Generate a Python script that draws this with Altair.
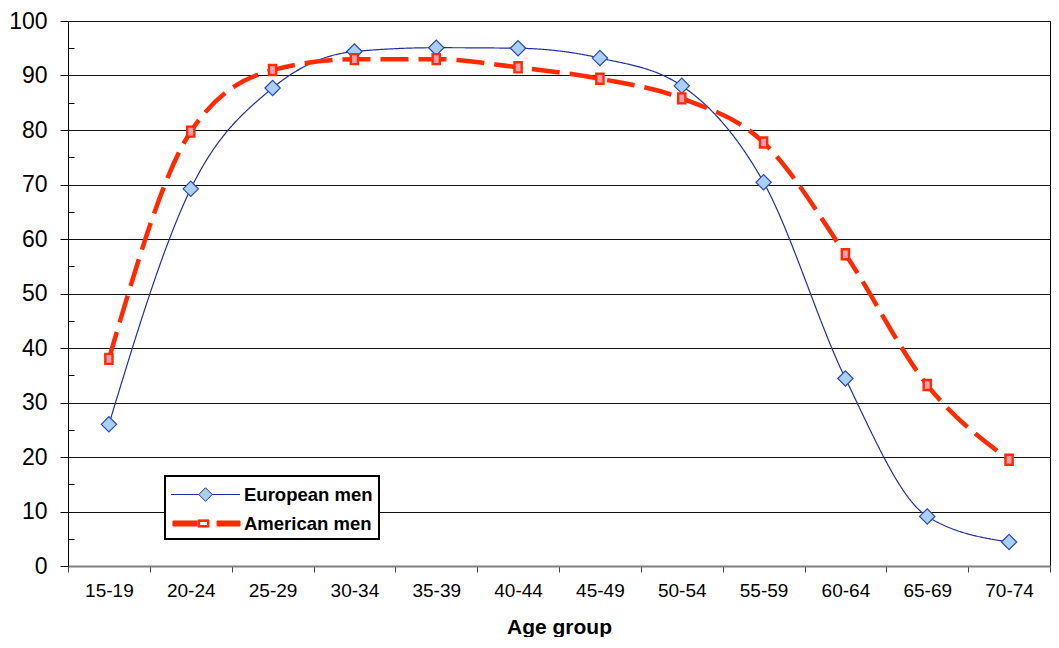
import altair as alt
import pandas as pd

groups = ["15-19", "20-24", "25-29", "30-34", "35-39", "40-44",
          "45-49", "50-54", "55-59", "60-64", "65-69", "70-74"]
european = [26.0, 69.2, 87.7, 94.4, 95.1, 95.0, 93.2, 88.1, 70.4, 34.4, 9.1, 4.4]
american = [38.0, 79.7, 91.0, 93.0, 93.0, 91.5, 89.4, 85.8, 77.7, 57.2, 33.2, 19.5]
series_names = ["European men", "American men"]
minor_ticks = [5, 15, 25, 35, 45, 55, 65, 75, 85, 95]

rows = []
for g, e, a in zip(groups, european, american):
    rows.append({"group": g, "series": series_names[0], "value": e})
    rows.append({"group": g, "series": series_names[1], "value": a})
df = pd.DataFrame(rows)

FONT = "Liberation Sans"
dom = series_names

xenc = alt.X("group:N", sort=groups, scale=alt.Scale(type="band", paddingInner=0, paddingOuter=0),
             axis=alt.Axis(tickBand="extent", labelAngle=0, labelFontSize=19, labelFont=FONT,
                           labelColor="black", labelPadding=9, tickSize=6, tickColor="#444",
                           domainColor="#808080", domainWidth=2, gridColor="#444", gridWidth=1.3,
                           title="Age group", titleFont=FONT, titleFontSize=21, titleFontWeight="bold",
                           titleColor="black", titlePadding=16))

yscale = alt.Scale(domain=[0, 100], nice=False)

lines = alt.Chart(df).mark_line(interpolate="monotone").encode(
    x=xenc,
    y=alt.Y("value:Q", scale=yscale,
            axis=alt.Axis(values=list(range(0, 101, 10)), labelFontSize=23, labelFont=FONT,
                          labelColor="black", labelPadding=13, tickSize=8, tickColor="black",
                          domainColor="black", gridColor="#111", gridWidth=1, title=None)),
    color=alt.Color("series:N", scale=alt.Scale(domain=dom, range=["#1f2f9f", "#ff2a00"]), legend=None),
    strokeDash=alt.StrokeDash("series:N", scale=alt.Scale(domain=dom, range=[[1, 0], [28, 10]]), legend=None),
    strokeWidth=alt.StrokeWidth("series:N", scale=alt.Scale(domain=dom, range=[1.2, 4.5]), legend=None),
)

rect_path = "M-0.72,-1H0.72V1H-0.72Z"
points = alt.Chart(df).mark_point(filled=True, opacity=1).encode(
    x=alt.X("group:N", sort=groups),
    y=alt.Y("value:Q", scale=yscale, axis=None),
    shape=alt.Shape("series:N", scale=alt.Scale(domain=dom, range=["diamond", rect_path]), legend=None),
    fill=alt.Fill("series:N", scale=alt.Scale(domain=dom, range=["#a8d0f8", "#ff9fb0"]), legend=None),
    stroke=alt.Stroke("series:N", scale=alt.Scale(domain=dom, range=["#2a48b0", "#ff2a00"]), legend=None),
    strokeWidth=alt.StrokeWidth("series:N", scale=alt.Scale(domain=dom, range=[1.2, 2.4]), legend=None),
    size=alt.Size("series:N", scale=alt.Scale(domain=dom, range=[235, 100]), legend=None),
)

eu_path = "M-2.875,0H-0.56M0.56,0H2.875M0,-0.56L0.56,0L0,0.56L-0.56,0Z"
am_path = ("M-2.71,-0.21H-0.71V0.21H-2.71Z M0.96,-0.21H2.875V0.21H0.96Z "
           "M-0.625,-0.3H0.29V0.3H-0.625Z M-0.5,-0.17V0.17H0.17V-0.17Z")

leg = alt.Legend(title=None, orient="none", legendX=97, legendY=455, symbolOpacity=1,
                 symbolSize=576, symbolStrokeWidth=1, labelFont=FONT, labelFontSize=18.5,
                 labelFontWeight="bold", labelColor="black", labelOffset=26, symbolOffset=22,
                 labelExpr="datum.label + '\u00a0\u00a0\u00a0\u00a0'",
                 strokeColor="black", fillColor="white", padding=6, rowPadding=7)

legend_layer = alt.Chart(df).mark_point(filled=True, opacity=0, size=576).encode(
    x=alt.X("group:N", sort=groups),
    y=alt.Y("value:Q", scale=yscale,
            axis=alt.Axis(values=minor_ticks, orient="left", offset=-6, tickSize=6, labels=False,
                          domain=False, grid=False, ticks=True, tickColor="black", title=None)),
    shape=alt.Shape("series:N", scale=alt.Scale(domain=dom, range=[eu_path, am_path]), legend=leg),
    fill=alt.Fill("series:N", scale=alt.Scale(domain=dom, range=["#a8d0f8", "#ff2a00"]), legend=leg),
    stroke=alt.Stroke("series:N", scale=alt.Scale(domain=dom, range=["#1f2f9f", "#ff2a00"]), legend=leg),
)

chart = alt.layer(lines, points, legend_layer).resolve_scale(
    shape="independent", fill="independent", stroke="independent", strokeWidth="independent"
).resolve_axis(y="independent").properties(
    width=982, height=545, padding={"left": 0, "top": 2, "right": 0, "bottom": 0},
    background="white"
).configure_view(stroke="black", strokeWidth=1).configure_legend(strokeWidth=2)

chart.save("out.html", embed_options={"renderer": "svg", "actions": False})
